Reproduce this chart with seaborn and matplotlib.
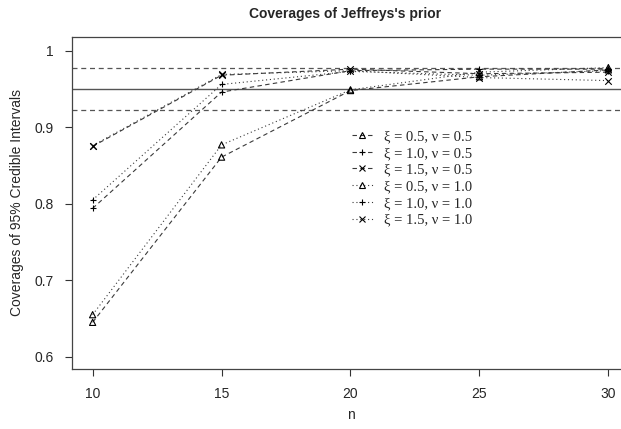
import matplotlib
matplotlib.use("Agg")
import matplotlib.pyplot as plt
from matplotlib.lines import Line2D
import numpy as np
import pandas as pd
import seaborn as sns

# values
n_values = [10, 15, 20, 25, 30]
labels = ["ξ = 0.5, ν = 0.5", "ξ = 1.0, ν = 0.5", "ξ = 1.5, ν = 0.5",
          "ξ = 0.5, ν = 1.0", "ξ = 1.0, ν = 1.0", "ξ = 1.5, ν = 1.0"]
xi05_nu05 = [0.645, 0.861, 0.948, 0.966, 0.975]
xi10_nu05 = [0.794, 0.946, 0.974, 0.976, 0.976]
xi15_nu05 = [0.875, 0.968, 0.976, 0.970, 0.972]
xi05_nu10 = [0.655, 0.877, 0.949, 0.972, 0.978]
xi10_nu10 = [0.805, 0.956, 0.973, 0.968, 0.974]
xi15_nu10 = [0.876, 0.969, 0.974, 0.965, 0.961]
nominal = 0.95
band = [0.9224, 0.9776]

series = [xi05_nu05, xi10_nu05, xi15_nu05, xi05_nu10, xi10_nu10, xi15_nu10]
markers = ["^", "+", "x", "^", "+", "x"]
dashes = [(4, 3), (4, 3), (4, 3), (1, 2.5), (1, 2.5), (1, 2.5)]

sns.set_style("ticks")
plt.rcParams["font.family"] = ["Liberation Sans", "DejaVu Sans"]

fig = plt.figure(figsize=(6.21, 4.29), dpi=100)
ax = fig.add_axes([72 / 621, 1 - 369 / 429, (629 - 72) / 621, (369 - 37) / 429])

ax.axhline(nominal, color="#555555", lw=1.0, zorder=1)
for b in band:
    ax.axhline(b, color="#555555", lw=0.9, ls=(0, (4, 3)), zorder=1)

handles = []
for vals, lab, m, d in zip(series, labels, markers, dashes):
    df = pd.DataFrame({"n": n_values, "cov": vals})
    sns.lineplot(data=df, x="n", y="cov", ax=ax, color="#3a3a3a", lw=0.8,
                 dashes=False, legend=False)
    line = ax.get_lines()[-1]
    line.set_dashes(d)
    ax.scatter(n_values, vals, marker=m, s=22 if m != "^" else 20,
               facecolor="none" if m == "^" else "black",
               edgecolor="black", linewidths=0.8, zorder=3)
    handles.append(Line2D([0], [0], color="#3a3a3a", lw=0.8, dashes=d,
                          marker=m, markersize=4, markerfacecolor="none",
                          markeredgecolor="black", markeredgewidth=0.8))

ax.set_xlim(9.2, 30.8)
ax.set_ylim(0.584, 1.018)
ax.set_xticks([10, 15, 20, 25, 30])
ax.set_yticks([0.6, 0.7, 0.8, 0.9, 1.0])
ax.set_yticklabels(["0.6", "0.7", "0.8", "0.9", "1"])
ax.tick_params(labelsize=10, length=5, width=0.8, color="#333333", pad=8)
for s in ax.spines.values():
    s.set_color("#444444")
    s.set_linewidth(0.9)

ax.set_xlabel("n", fontsize=10, labelpad=5)
ax.set_ylabel("Coverages of 95% Credible Intervals", fontsize=10, labelpad=8)
fig.text(345 / 621, 1 - 14 / 429, "Coverages of Jeffreys's prior",
         ha="center", va="center", fontsize=10, fontweight="bold")

leg = ax.legend(handles, labels, loc="upper left", bbox_to_anchor=(0.503, 0.72),
                frameon=False, handlelength=1.4, handletextpad=0.8,
                labelspacing=0.24, borderaxespad=0, borderpad=0,
                prop={"family": "Liberation Serif", "size": 10.5})

fig.savefig("out.png", dpi=100)
